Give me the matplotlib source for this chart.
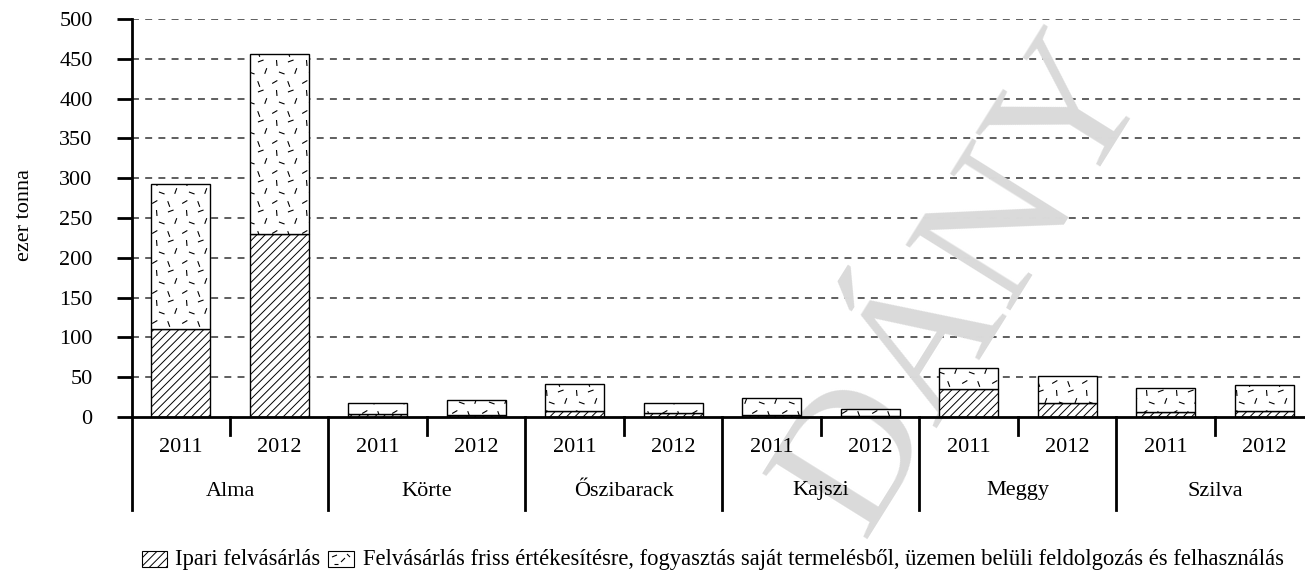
import matplotlib
matplotlib.use('Agg')
import matplotlib.pyplot as plt
from matplotlib.patches import Rectangle
from matplotlib.collections import LineCollection
import numpy as np

plt.rcParams['font.family'] = ['Liberation Serif', 'DejaVu Serif']
plt.rcParams['hatch.linewidth'] = 0.7
plt.rcParams['lines.scale_dashes'] = False

# data (ezer tonna)
fruits = ['Alma', 'Körte', 'Őszibarack', 'Kajszi', 'Meggy', 'Szilva']
years = ['2011', '2012']
ipari = [110, 230, 4, 2, 8, 5, 3, 1, 35, 18, 6, 7]
friss = [183, 226, 13, 19, 34, 13, 21, 9, 26, 33, 31, 33]   # total minus ipari
yticks = list(range(0, 501, 50))

W, H = 1305, 577
fig = plt.figure(figsize=(W / 100, H / 100), dpi=100)
ax_l, ax_r, ax_t, ax_b = 131.5, 1313.5, 19, 417
ax = fig.add_axes([ax_l / W, 1 - ax_b / H, (ax_r - ax_l) / W, (ax_b - ax_t) / H])

n = len(ipari)
x = np.arange(n)
ax.set_xlim(-0.5, n - 0.5)
ax.set_ylim(0, 500)

# dashed grid
for v in yticks[1:]:
    ax.axhline(v, color='#333333', lw=1.1, linestyle=(0, (5, 4.5)), zorder=0.5)

bw = 0.6
b1 = ax.bar(x, ipari, bw, color='white', edgecolor='black', lw=1.0,
            hatch='////', zorder=2)
b2 = ax.bar(x, friss, bw, bottom=ipari, color='white', edgecolor='black',
            lw=1.0, zorder=2)

# scattered dash texture (pixel tile)
tile = 30.0
marks = [(4, 5, 30), (18, 3, 110), (11, 14, 160), (25, 16, 70), (6, 24, 95), (20, 26, 20)]
seg_len = 6.0
px_x = (ax_r - ax_l) / n
px_y = (ax_b - ax_t) / 500.0


def texture_segments(x0, y0, x1, y1):
    # x0..x1, y0..y1 in pixels
    segs = []
    for ty in np.arange(np.floor(y0 / tile) * tile, y1, tile):
        for tx in np.arange(np.floor(x0 / tile) * tile, x1, tile):
            for mx, my, ang in marks:
                cx, cy = tx + mx, ty + my
                dx = 0.5 * seg_len * np.cos(np.radians(ang))
                dy = 0.5 * seg_len * np.sin(np.radians(ang))
                segs.append([(cx - dx, cy - dy), (cx + dx, cy + dy)])
    return segs


for rect in b2:
    rx, ry = rect.get_x(), rect.get_y()
    rw, rh = rect.get_width(), rect.get_height()
    segs = texture_segments(rx * px_x, ry * px_y, (rx + rw) * px_x, (ry + rh) * px_y)
    segs = [[(a / px_x, b / px_y) for a, b in s] for s in segs]
    lc = LineCollection(segs, colors='black', linewidths=0.8, zorder=2.1)
    ax.add_collection(lc)
    # clip to the bar (set after add_collection, which resets the clip)
    lc.set_clip_path(rect.get_path(), rect.get_transform())

# axes styling
for s in ['top', 'right', 'left']:
    ax.spines[s].set_visible(False)
ax.spines['bottom'].set_linewidth(2)
ax.set_xticks([])
ax.set_yticks(yticks)
ax.tick_params(axis='y', direction='out', length=11, width=2, pad=17, labelsize=16)

# category axis lines below
trans = ax.get_xaxis_transform()
sep_bottom = -(510 - ax_b) / (ax_b - ax_t)
ax.plot([-0.5, -0.5], [sep_bottom, 1], color='black', lw=2, transform=trans, clip_on=False)
for g in range(1, len(fruits)):
    xs = 2 * g - 0.5
    ax.plot([xs, xs], [sep_bottom, 0], color='black', lw=2, transform=trans, clip_on=False)
tick_bottom = -(435 - ax_b) / (ax_b - ax_t)
for g in range(len(fruits)):
    xs = 2 * g + 0.5
    ax.plot([xs, xs], [tick_bottom, 0], color='black', lw=2, transform=trans, clip_on=False)

year_y = -(447 - ax_b) / (ax_b - ax_t)
fruit_y = -(491 - ax_b) / (ax_b - ax_t)
for i in range(n):
    ax.text(i, year_y, years[i % 2], ha='center', va='center', fontsize=16,
            transform=trans, zorder=3)
for g, name in enumerate(fruits):
    ax.text(2 * g + 0.5, fruit_y, name, ha='center', va='center', fontsize=16,
            transform=trans, zorder=3)

fig.text(25 / W, 1 - 215 / H, 'ezer tonna', rotation=90, ha='center', va='center',
         fontsize=16)

# watermark (under the bars, over the grid)
ax.text(968 / W, 1 - 285 / H, 'DÁNY', rotation=58, ha='center', va='center',
        fontsize=135, color='#dadada', zorder=1, transform=fig.transFigure,
        clip_on=False)

# legend
ly = 559
lfs = 16.3


def fig_rect(x0, x1, hatch=None):
    r = Rectangle((x0 / W, 1 - (ly + 8) / H), (x1 - x0) / W, 16 / H,
                  transform=fig.transFigure, facecolor='white',
                  edgecolor='black', lw=0.8, hatch=hatch)
    fig.add_artist(r)
    return r


fig_rect(142, 167, hatch='////')
fig.text(175 / W, 1 - ly / H, 'Ipari felvásárlás', ha='left', va='center', fontsize=lfs)
bx = 328
fig_rect(bx, bx + 26)
leg_marks = [[(bx + 4, ly - 2), (bx + 9, ly - 4)], [(bx + 13, ly + 3), (bx + 17, ly - 1)],
             [(bx + 19, ly - 5), (bx + 22, ly - 2)], [(bx + 6, ly + 5), (bx + 10, ly + 5)]]
segs = [[(a / W, 1 - b / H) for a, b in s] for s in leg_marks]
lc = LineCollection(segs, colors='black', linewidths=0.8, transform=fig.transFigure)
fig.add_artist(lc)
fig.text((bx + 35) / W, 1 - ly / H,
         'Felvásárlás friss értékesítésre, fogyasztás saját termelésből, '
         'üzemen belüli feldolgozás és felhasználás',
         ha='left', va='center', fontsize=lfs)

fig.savefig('out.png', dpi=100)
